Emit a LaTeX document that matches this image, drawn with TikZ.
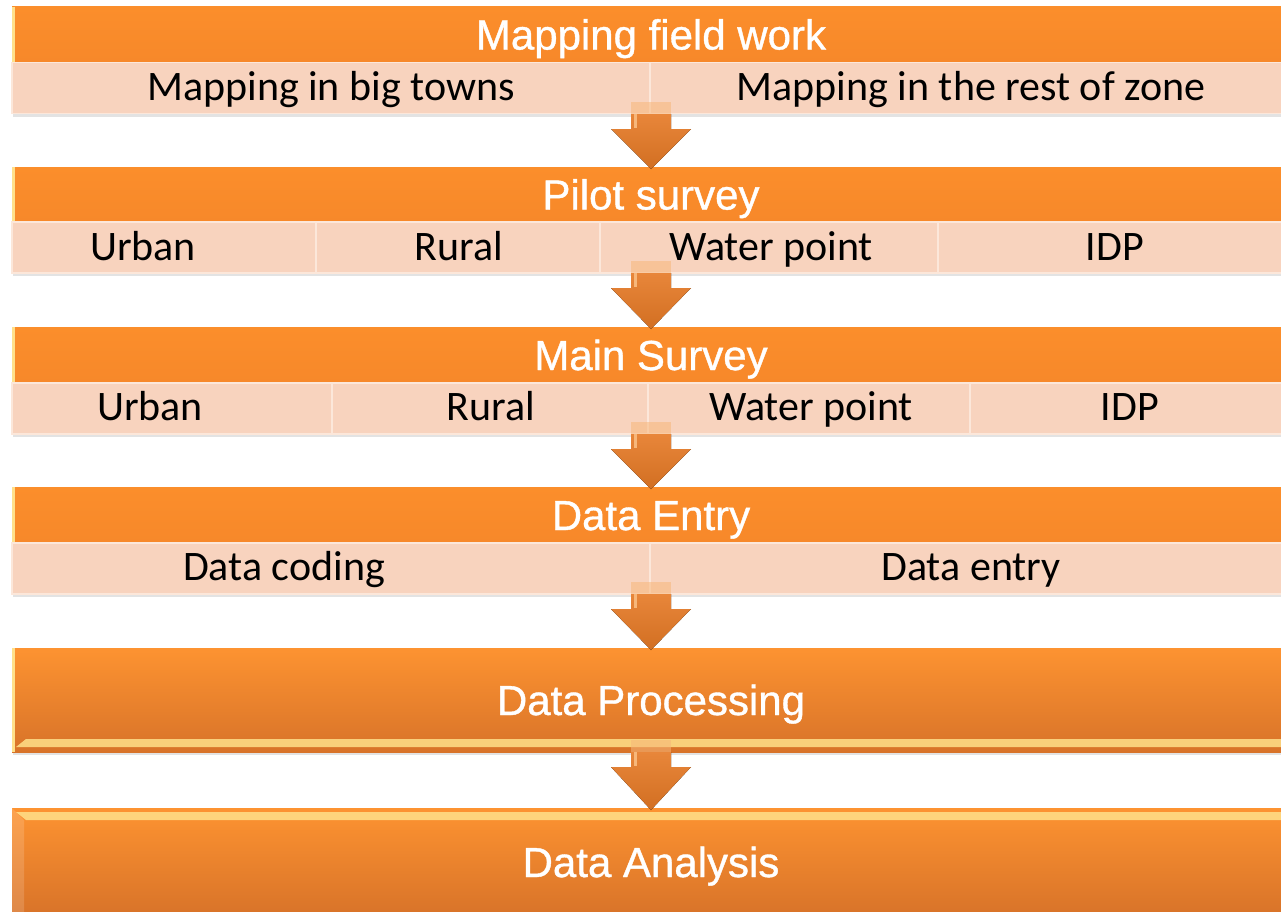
\documentclass[tikz,border=0pt]{standalone}
\usepackage{fontspec}
\setmainfont{Liberation Sans}
\newfontfamily\hdrfont[FakeBold=0.9]{Liberation Sans}
\newfontfamily\subfont{Carlito}
\usetikzlibrary{calc,shadows}
\definecolor{hdrorange}{HTML}{FB8E2B}
\definecolor{hdrdark}{HTML}{F7882A}
\definecolor{peach}{HTML}{F8D3BE}
\definecolor{peachlite}{HTML}{FCE7DA}
\definecolor{peachdark}{HTML}{EBC0A6}
\definecolor{bigtop}{HTML}{FD9331}
\definecolor{bigbot}{HTML}{D87329}
\definecolor{bevel}{HTML}{FFE08A}
\definecolor{arrtop}{HTML}{E8863A}
\definecolor{arrbot}{HTML}{D26F22}
\definecolor{arrlite}{HTML}{F7B77A}
\tikzset{
  rowbg/.style={rectangle, inner sep=0pt, outer sep=0pt, fill=peach,
    minimum width=1278pt, drop shadow={shadow xshift=1pt, shadow yshift=-3pt, opacity=.22}},
  hdr/.style={rectangle, inner sep=0pt, outer sep=0pt, top color=hdrorange, bottom color=hdrdark,
    minimum width=1278pt, minimum height=56pt, text=white,
    font=\hdrfont\fontsize{42}{46}\selectfont, text height=30pt, text depth=0pt,
    path picture={\draw[bevel, line width=3pt] ([xshift=1.5pt]path picture bounding box.north west) -- ([xshift=1.5pt]path picture bounding box.south west);}},
  cell/.style={rectangle, inner sep=0pt, outer sep=0pt, fill=peach, draw=peachlite, line width=1.2pt,
    minimum height=51pt},
  subtxt/.style={inner sep=0pt, text=black, font=\subfont\fontsize{42}{46}\selectfont,
    text height=27pt, text depth=0pt},
  bigbox/.style={rectangle, inner sep=0pt, outer sep=0pt, top color=bigtop, bottom color=bigbot,
    minimum width=1278pt, text=white, font=\hdrfont\fontsize{42}{46}\selectfont, text height=30pt, text depth=0pt,
    drop shadow={shadow xshift=1pt, shadow yshift=-3pt, opacity=.22}},
  arrowbody/.style={top color=arrtop, bottom color=arrbot},
}
\newcommand{\flowarrow}[2]{%
  \fill[arrlite, opacity=.55] ($(#1.south)+(-20,-12)$) rectangle ($(#1.south)+(20,0)$);
  \fill[arrowbody] ($(#1.south)+(-20,0)$) -- ($(#1.south)+(20,0)$) -- ($(#1.south)+(20,15)$)
    -- ($(#1.south)+(40,15)$) -- ($(#2.north)+(0,2)$) -- ($(#1.south)+(-40,15)$)
    -- ($(#1.south)+(-20,15)$) -- cycle;
  \draw[arrlite, line width=3pt] ($(#1.south)+(-16,0)$) -- ($(#1.south)+(-16,14)$);
}
\begin{document}
\begin{tikzpicture}[x=1pt,y=-1pt]
\useasboundingbox (0,0) rectangle (1281,911);
\clip (0,0) rectangle (1281,911);
\fill[white] (0,0) rectangle (1281,911);

% Stage 1
\node[rowbg, minimum height=108pt] (r1) at (651,60) {};
\node[hdr] (h1) at (651,34.5) {Mapping field work};
\node[cell, minimum width=638pt] (c11) at (331,88) {};
\node[cell, minimum width=640pt] (c12) at (970,88) {};
\node[subtxt] (t11) at (331,87) {Mapping in big towns};
\node[subtxt] (t12) at (971,87) {Mapping in the rest of zone};

% Stage 2
\node[rowbg, minimum height=106pt] (r2) at (651,220) {};
\node[hdr, minimum height=55pt] (h2) at (651,194.5) {Pilot survey};
\node[cell, minimum width=304pt] (c21) at (164,247.5) {};
\node[cell, minimum width=284pt] (c22) at (458,247.5) {};
\node[cell, minimum width=338pt] (c23) at (769,247.5) {};
\node[cell, minimum width=352pt] (c24) at (1114,247.5) {};
\node[subtxt] (t21) at (143,247) {Urban};
\node[subtxt] (t22) at (459,247) {Rural};
\node[subtxt] (t23) at (771,247) {Water point};
\node[subtxt] (t24) at (1115,247) {IDP};

% Stage 3
\node[rowbg, minimum height=107pt] (r3) at (651,380.5) {};
\node[hdr] (h3) at (651,355) {Main Survey};
\node[cell, minimum width=320pt] (c31) at (172,408.5) {};
\node[cell, minimum width=316pt] (c32) at (490,408.5) {};
\node[cell, minimum width=322pt] (c33) at (809,408.5) {};
\node[cell, minimum width=320pt] (c34) at (1130,408.5) {};
\node[subtxt] (t31) at (150,407) {Urban};
\node[subtxt] (t32) at (491,407) {Rural};
\node[subtxt] (t33) at (811,407) {Water point};
\node[subtxt] (t34) at (1130,407) {IDP};

% Stage 4
\node[rowbg, minimum height=107pt] (r4) at (651,540.5) {};
\node[hdr] (h4) at (651,515) {Data Entry};
\node[cell, minimum width=638pt] (c41) at (331,568.5) {};
\node[cell, minimum width=640pt] (c42) at (970,568.5) {};
\node[subtxt] (t41) at (284,567) {Data coding};
\node[subtxt] (t42) at (971,567) {Data entry};

% Stage 5
\node[bigbox, minimum height=104pt,
  path picture={
    \draw[bevel, line width=3pt] ([xshift=1.5pt]path picture bounding box.north west) -- ([xshift=1.5pt]path picture bounding box.south west);
    \fill[bevel, opacity=.85] ([xshift=14pt,yshift=13pt]path picture bounding box.south west) -- ([yshift=13pt]path picture bounding box.south east) -- ([yshift=5pt]path picture bounding box.south east) -- ([xshift=4pt,yshift=5pt]path picture bounding box.south west) -- cycle;
  }] (b5) at (651,700) {Data Processing};

% Stage 6
\node[bigbox, minimum height=108pt,
  path picture={
    \fill[bevel, opacity=.85] ([xshift=4pt,yshift=-4pt]path picture bounding box.north west) -- ([yshift=-4pt]path picture bounding box.north east) -- ([yshift=-12pt]path picture bounding box.north east) -- ([xshift=14pt,yshift=-12pt]path picture bounding box.north west) -- cycle;
    \fill[white, opacity=.15] (path picture bounding box.north west) -- ([xshift=12pt,yshift=-12pt]path picture bounding box.north west) -- ([xshift=12pt]path picture bounding box.south west) -- (path picture bounding box.south west) -- cycle;
  }] (b6) at (651,862) {Data Analysis};

% Arrows
\flowarrow{r1}{h2}
\flowarrow{r2}{h3}
\flowarrow{r3}{h4}
\flowarrow{r4}{b5}
\flowarrow{b5}{b6}
\end{tikzpicture}
\end{document}
